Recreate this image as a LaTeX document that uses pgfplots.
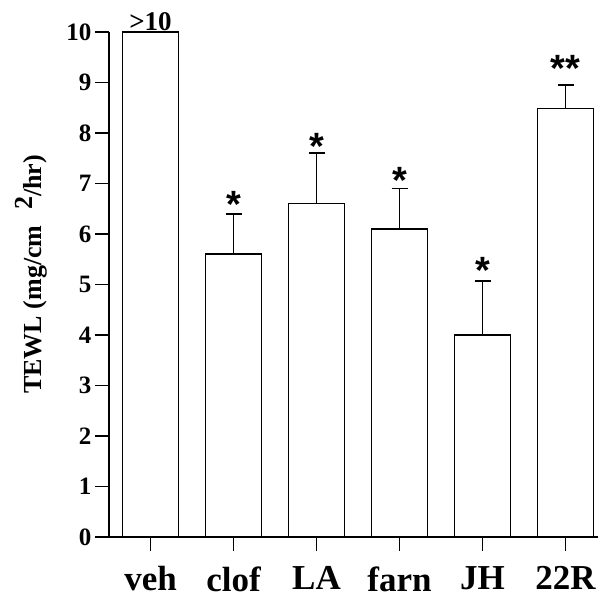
\documentclass[border=0pt]{standalone}
\usepackage{fontspec}
\setmainfont{Liberation Serif}
\newfontfamily\starfont{Liberation Sans}
\usepackage{pgfplots}
\pgfplotsset{compat=1.18}

\begin{document}
\begin{tikzpicture}
\begin{axis}[
    scale only axis, width=489pt, height=505pt,
    xmin=-0.5, xmax=5.39, ymin=0, ymax=10,
    axis x line*=bottom, axis y line*=left,
    axis line style={line width=1.8pt},
    xtick={0,...,5}, xticklabels={veh,clof,LA,farn,JH,22R},
    ytick={0,...,10},
    tick align=outside, major tick length=14pt,
    every tick/.style={black, line width=1.6pt},
    /pgf/number format/assume math mode=true,
    x tick label style={font=\bfseries\fontsize{35}{40}\selectfont, yshift=-12pt},
    y tick label style={font=\bfseries\fontsize{25}{30}\selectfont},
    ylabel={TEWL (mg/cm\hspace{0.6em}\raisebox{0.35em}{2}/hr)},
    every axis y label/.style={at={(rel axis cs:0,0.52)}, xshift=-78pt,
        rotate=90, anchor=center, font=\bfseries\fontsize{26}{30}\selectfont},
    clip=false,
]
\coordinate (ll) at (rel axis cs:0,0);
\coordinate (ur) at (rel axis cs:1,1);
\draw[line width=1.8pt] (rel axis cs:0,0) -- ++(-14pt,0);

% bars with upper error bars
\addplot[ybar, bar width=56pt, fill=white, draw=black, line width=1.4pt,
    error bars/.cd, y dir=plus, y explicit,
    error bar style={line width=1.5pt},
    error mark options={rotate=90, line width=1.5pt, mark size=8pt}]
coordinates {
    (0,10)   +- (0,0)
    (1,5.6)  +- (0,0.8)
    (2,6.6)  +- (0,1.0)
    (3,6.1)  +- (0,0.8)
    (4,4.0)  +- (0,1.07)
    (5,8.48) +- (0,0.47)
};

% significance stars
\addplot[draw=none, mark=none, nodes near coords, point meta=explicit symbolic,
    every node near coord/.style={anchor=center, inner sep=0pt, yshift=-8pt,
        font=\starfont\bfseries\fontsize{38}{40}\selectfont}]
coordinates {
    (1,6.74) [*]
    (2,7.90) [*]
    (3,7.21) [*]
    (4,5.43) [*]
    (5,9.43) [**]
};

\addplot[draw=none, mark=none, nodes near coords, point meta=explicit symbolic,
    every node near coord/.style={anchor=center, inner sep=0pt,
        font=\bfseries\fontsize{27}{30}\selectfont}]
coordinates {(0,10.21) [>10]};
\end{axis}
\pgfresetboundingbox
\path ([shift={(-109pt,-61pt)}]ll) rectangle ([shift={(2pt,32pt)}]ur);
\end{tikzpicture}
\end{document}
